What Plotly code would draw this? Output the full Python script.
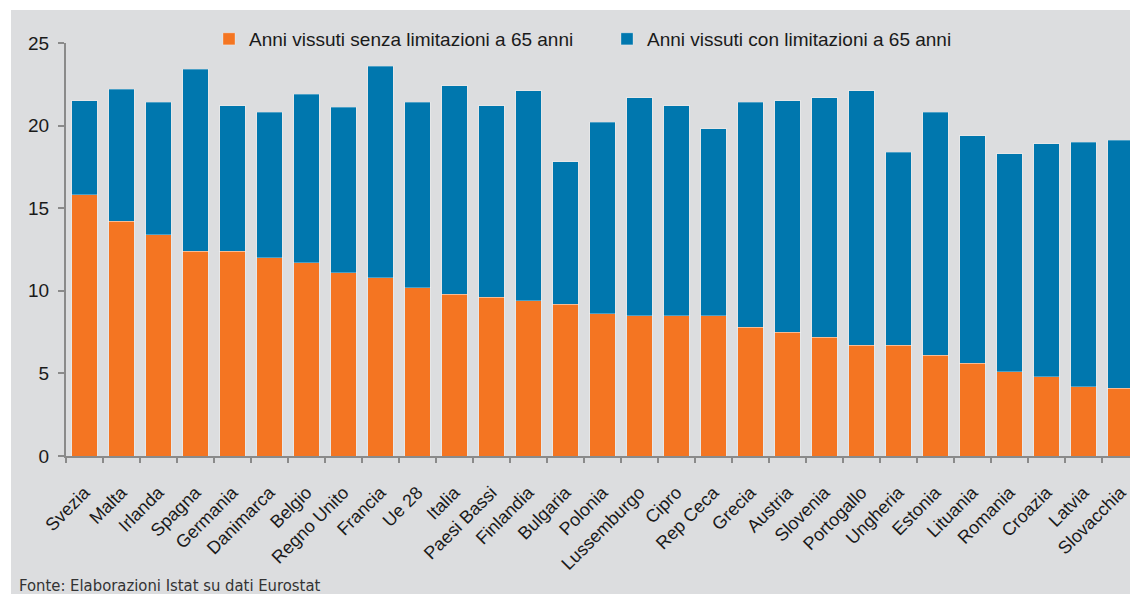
import plotly.graph_objects as go

categories = ["Svezia", "Malta", "Irlanda", "Spagna", "Germania", "Danimarca", "Belgio",
              "Regno Unito", "Francia", "Ue 28", "Italia", "Paesi Bassi", "Finlandia",
              "Bulgaria", "Polonia", "Lussemburgo", "Cipro", "Rep Ceca", "Grecia", "Austria",
              "Slovenia", "Portogallo", "Ungheria", "Estonia", "Lituania", "Romania",
              "Croazia", "Latvia", "Slovacchia"]

senza_limitazioni = [15.8, 14.2, 13.4, 12.4, 12.4, 12.0, 11.7, 11.1, 10.8, 10.2, 9.8, 9.6, 9.4,
                     9.2, 8.6, 8.5, 8.5, 8.5, 7.8, 7.5, 7.2, 6.7, 6.7, 6.1, 5.6, 5.1, 4.8, 4.2, 4.1]

con_limitazioni = [5.7, 8.0, 8.0, 11.0, 8.8, 8.8, 10.2, 10.0, 12.8, 11.2, 12.6, 11.6, 12.7,
                   8.6, 11.6, 13.2, 12.7, 11.3, 13.6, 14.0, 14.5, 15.4, 11.7, 14.7, 13.8, 13.2,
                   14.1, 14.8, 15.0]

y_ticks = [0, 5, 10, 15, 20, 25]

ORANGE = "#F47522"
BLUE = "#0077AE"
BG = "#DCDDDF"
AXIS = "#8A8A8A"

W, H = 1130, 594
ML, MR, MT, MB = 66, 0, 43, 138
pw = W - ML - MR
ph = H - MT - MB
cat_px = 37.0
x_end = -0.5 + pw / cat_px

def px_x(p):
    return (p - ML) / pw

def px_y(p):
    return (H - MB - p) / ph

fig = go.Figure()
fig.add_trace(go.Bar(
    x=categories, y=senza_limitazioni,
    name="Anni vissuti senza limitazioni a 65 anni",
    marker=dict(color=ORANGE, line=dict(color="rgba(255,255,255,0.3)", width=1)),
))
fig.add_trace(go.Bar(
    x=categories, y=con_limitazioni,
    name="Anni vissuti con limitazioni a 65 anni",
    marker=dict(color=BLUE, line=dict(color="rgba(255,255,255,0.3)", width=1)),
))

fig.update_layout(
    width=W, height=H,
    barmode="stack",
    bargap=0.32,
    margin=dict(l=ML, r=MR, t=MT, b=MB, pad=0),
    paper_bgcolor="white",
    plot_bgcolor=BG,
    font=dict(family="Liberation Sans, Arial, sans-serif", color="#1a1a1a", size=17),
    showlegend=True,
    legend=dict(
        orientation="h",
        x=px_x(209), xanchor="left",
        y=px_y(39), yanchor="middle",
        bgcolor="rgba(0,0,0,0)",
        font=dict(size=19, color="#1a1a1a"),
        entrywidth=353, entrywidthmode="pixels",
        traceorder="normal",
    ),
    xaxis=dict(
        range=[-0.5, x_end],
        showline=True, linecolor=AXIS, linewidth=2,
        ticks="outside", tickson="boundaries", ticklen=5, tickcolor=AXIS, tickwidth=2,
        tickangle=-45,
        ticklabelstandoff=17,
        tickfont=dict(size=18, color="#1a1a1a"),
        showgrid=False, zeroline=False,
    ),
    yaxis=dict(
        range=[0, 25],
        tickvals=y_ticks,
        showline=True, linecolor=AXIS, linewidth=2,
        ticks="outside", ticklen=6, tickcolor=AXIS, tickwidth=2,
        ticklabelstandoff=5,
        tickfont=dict(size=19, color="#1a1a1a"),
        showgrid=False, zeroline=False,
    ),
    shapes=[dict(
        type="rect", xref="paper", yref="paper",
        x0=px_x(11), x1=px_x(W + 5), y0=px_y(H + 5), y1=px_y(10),
        fillcolor=BG, line=dict(width=0), layer="below",
    )],
    annotations=[dict(
        text="Fonte: Elaborazioni Istat su dati Eurostat",
        xref="paper", yref="paper",
        x=px_x(17), xanchor="left",
        y=px_y(585), yanchor="middle",
        showarrow=False,
        font=dict(family="Liberation Sans Narrow, Arial Narrow, DejaVu Sans Condensed, sans-serif",
                  size=16.5, color="#333333"),
    )],
)

fig.write_html(
    "out.html",
    config={"displayModeBar": False},
    post_script="document.body.style.margin='0';document.body.style.padding='0';"
                "document.body.style.overflow='hidden';",
)
